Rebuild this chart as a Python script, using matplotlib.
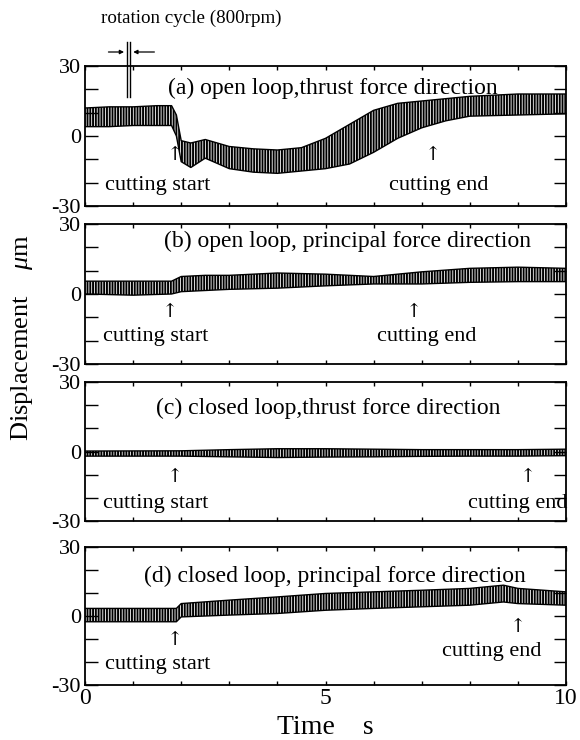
import numpy as np
import matplotlib
matplotlib.use('Agg')
import matplotlib.pyplot as plt

plt.rcParams['font.family'] = ['Liberation Serif', 'DejaVu Serif']
plt.rcParams['mathtext.fontset'] = 'custom'
plt.rcParams['mathtext.rm'] = 'Liberation Serif'
plt.rcParams['mathtext.it'] = 'Liberation Serif:italic'
plt.rcParams['hatch.linewidth'] = 1.4

# envelope of the displacement signal (um)
ta = [0, 0.5, 1.0, 1.5, 1.8, 1.9, 2.0, 2.2, 2.5, 3.0, 3.5, 4.0, 4.5, 5.0, 5.5, 6.0, 6.5, 7.0, 7.5, 8.0, 9.0, 10.0]
upper_a = [12, 12.5, 12.5, 13, 13, 9, -2, -3, -1.5, -4.5, -5.5, -6, -5, -1, 5, 11, 14, 15, 16, 17, 18, 18]
lower_a = [4, 4, 4.5, 4.5, 4.5, 0, -11, -13.5, -9.5, -14, -15.5, -16, -15, -14, -12, -7, -1, 3.5, 6.5, 8.5, 9, 9.5]

tb = [0, 1, 1.8, 2.0, 2.5, 3, 4, 5, 6, 7, 8, 9, 10]
upper_b = [5.5, 5.5, 5.5, 7.5, 8, 8, 9, 8.5, 7.5, 9.5, 11, 11.5, 11]
lower_b = [0, -0.5, 0, 1, 1.5, 2, 2.5, 3.5, 4.3, 4.3, 5, 5.3, 5.3]

tc = [0, 2, 3, 4, 5, 6, 7, 8, 9, 10]
upper_c = [0.2, 0.3, 0.8, 1.2, 1.2, 1.0, 0.8, 0.8, 0.8, 1.0]
lower_c = [-2.0, -2.0, -2.3, -2.6, -2.4, -2.3, -2.1, -2.0, -2.0, -1.8]

td = [0, 1, 1.9, 2.0, 3, 4, 5, 6, 7, 8, 8.7, 9, 10]
upper_d = [3.3, 3.3, 3.3, 5.4, 6.9, 8.3, 9.8, 10.5, 11.2, 12, 13.4, 12, 10.5]
lower_d = [-2.5, -2.5, -2.5, -0.4, 0.4, 1.1, 2.5, 3.3, 4, 4.7, 6.1, 5.4, 4.7]

titles = ['(a) open loop,thrust force direction',
          '(b) open loop, principal force direction',
          '(c) closed loop,thrust force direction',
          '(d) closed loop, principal force direction']
title_pos = [(5.15, 20.6), (5.45, 22.7), (5.05, 18.8), (5.2, 17.0)]
start_txt = [(0.42, -21.4), (0.38, -18.0), (0.38, -22.3), (0.42, -21.0)]
start_arr = [(1.87, -8.0), (1.77, -7.7), (1.87, -11.0), (1.87, -10.5)]
end_txt = [(7.36, -21.4), (7.1, -18.0), (9.0, -22.3), (8.46, -15.6)]
end_arr = [(7.23, -8.0), (6.84, -7.7), (9.2, -11.0), (9.0, -4.8)]

series = [(ta, upper_a, lower_a), (tb, upper_b, lower_b),
          (tc, upper_c, lower_c), (td, upper_d, lower_d)]

# panel boxes in pixels (top, bottom)
boxes = [(66, 206), (224, 364), (382, 521), (547, 685)]
W, H = 580, 740
x0, x1 = 85, 566

fig = plt.figure(figsize=(5.8, 7.4), dpi=100)
axes = []
for i, (top, bot) in enumerate(boxes):
    ax = fig.add_axes([x0 / W, 1 - bot / H, (x1 - x0) / W, (bot - top) / H])
    axes.append(ax)
    t, up, lo = series[i]
    ax.fill_between(t, lo, up, facecolor='white', edgecolor='black',
                    hatch='||||||', linewidth=0)
    ax.plot(t, up, color='black', lw=1.0)
    ax.plot(t, lo, color='black', lw=1.0)
    ax.set_xlim(0, 10)
    ax.set_ylim(-30, 30)
    ax.set_xticks(range(11))
    ax.set_yticks([-30, -20, -10, 0, 10, 20, 30])
    ax.set_yticklabels(['-30', '', '', '0', '', '', '30'])
    if i == 3:
        ax.set_xticklabels(['0', '', '', '', '', '5', '', '', '', '', '10'])
    else:
        ax.set_xticklabels([])
    ax.tick_params(axis='y', direction='in', length=9, width=1, left=True,
                   right=True, labelsize=16, pad=3)
    ax.tick_params(axis='x', direction='in', length=3, width=1, top=True,
                   bottom=True, labelsize=17, pad=2)
    for s in ax.spines.values():
        s.set_linewidth(1.3)

    ax.text(*title_pos[i], titles[i], ha='center', va='center', fontsize=17)
    ax.text(*start_txt[i], 'cutting start', ha='left', va='center', fontsize=16)
    ax.text(*start_arr[i], '\u2191', ha='center', va='center', fontsize=14,
            family=['DejaVu Serif'])
    ax.text(*end_txt[i], 'cutting end', ha='center', va='center', fontsize=16)
    ax.text(*end_arr[i], '\u2191', ha='center', va='center', fontsize=14,
            family=['DejaVu Serif'])

# rotation cycle marker (one revolution at 800 rpm = 0.075 s)
ax = axes[0]
c0, c1 = 0.87, 0.87 + 60 / 800
for c in (c0, c1):
    ax.plot([c, c], [16.7, 40.3], color='black', lw=1, clip_on=False)
ax.annotate('', xy=(c0, 36), xytext=(0.43, 36),
            arrowprops=dict(arrowstyle='-|>', lw=0.9, color='black', mutation_scale=6),
            annotation_clip=False)
ax.annotate('', xy=(c1, 36), xytext=(1.5, 36),
            arrowprops=dict(arrowstyle='-|>', lw=0.9, color='black', mutation_scale=6),
            annotation_clip=False)
ax.text(2.2, 50.5, 'rotation cycle (800rpm)', ha='center', va='center',
        fontsize=13.7, clip_on=False)

fig.text(22 / W, 1 - 338 / H, 'Displacement    $\\mu$m', rotation=90,
         ha='center', va='center', fontsize=19)
fig.text(325 / W, 1 - 728 / H, 'Time    s', ha='center', va='center', fontsize=20)

fig.savefig('out.png', dpi=100)
